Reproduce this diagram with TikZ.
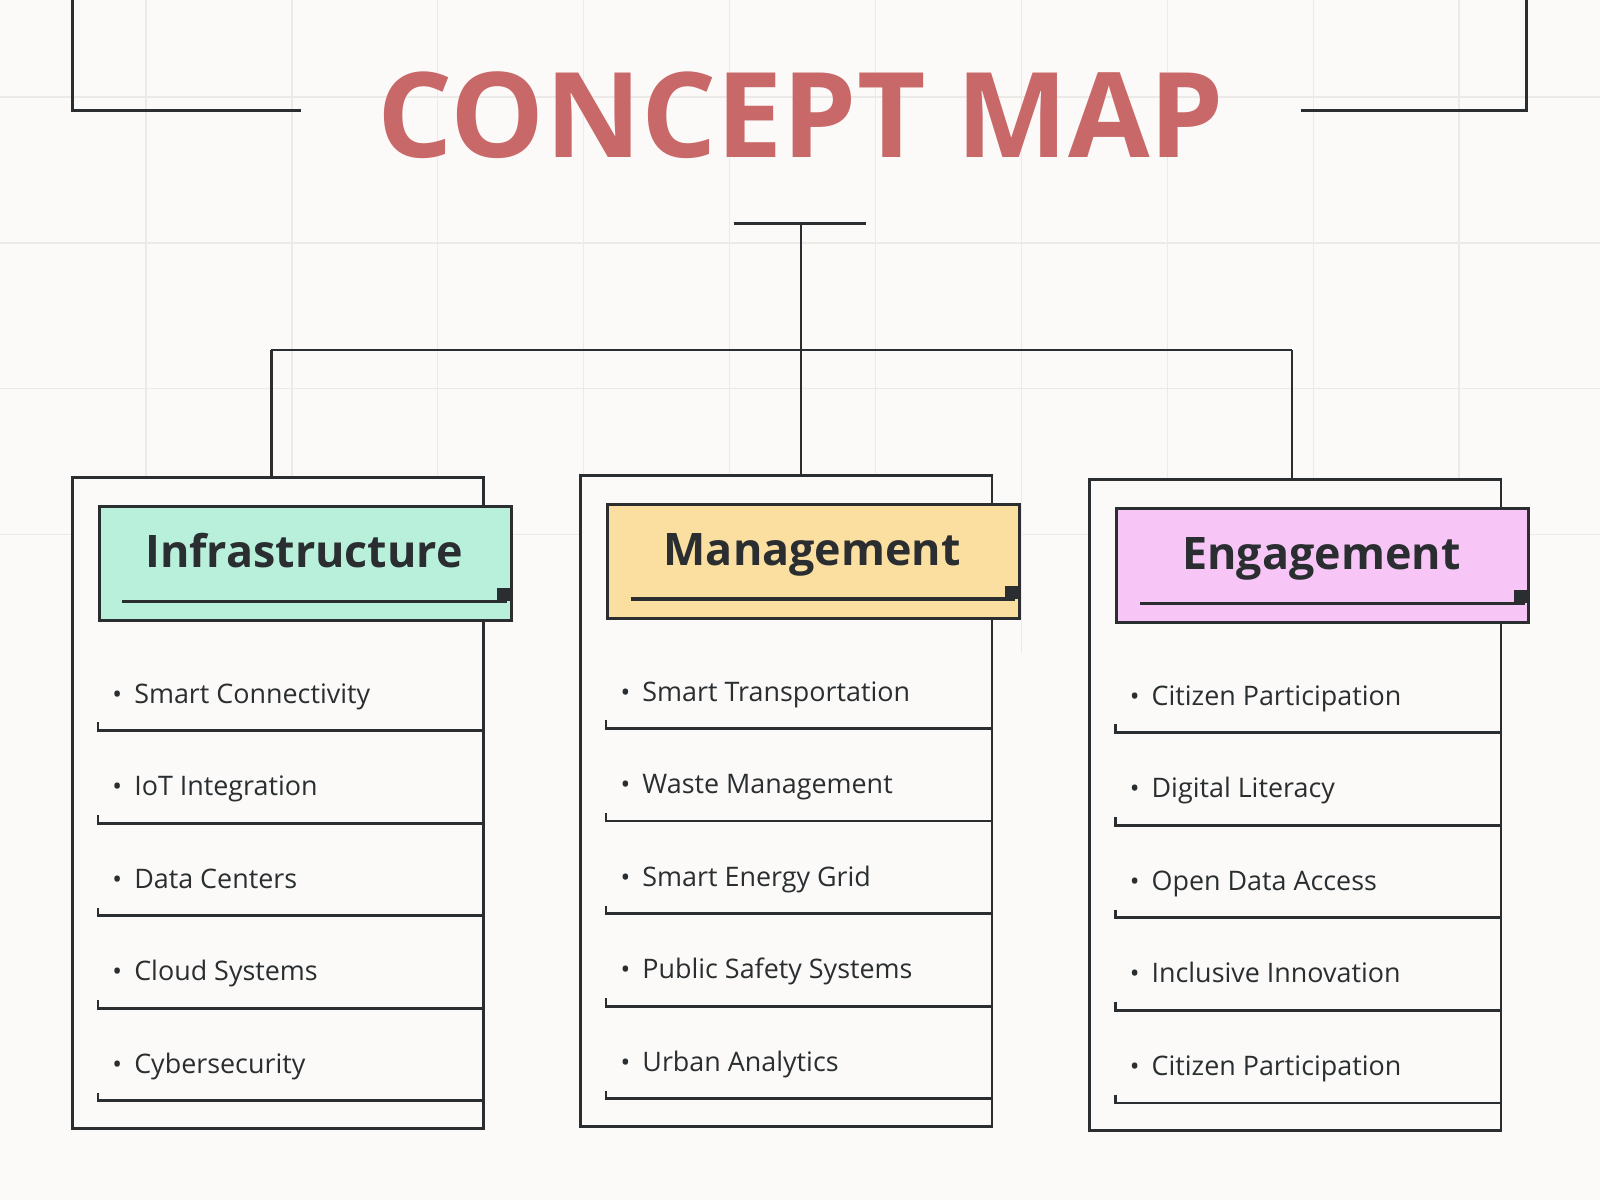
\documentclass[tikz,border=0pt]{standalone}
\usepackage{fontspec}
\setmainfont{Open Sans}
\usetikzlibrary{positioning}
\definecolor{titlered}{HTML}{C96868}
\definecolor{mint}{HTML}{B8F0DC}
\definecolor{sand}{HTML}{FADFA0}
\definecolor{pinkish}{HTML}{F8C6F6}
\definecolor{ink}{HTML}{2A2E30}
\definecolor{paper}{HTML}{FBFAF8}
\definecolor{gridc}{HTML}{ECEAE7}
\tikzset{
  frame/.style={draw=ink, line width=1.5pt},
  head/.style={draw=ink, line width=1.5pt, minimum width=8.08cm, minimum height=2.24cm, anchor=north west},
  headtext/.style={font=\fontsize{25}{28}\selectfont\bfseries, text=ink, anchor=base},
  item/.style={font=\fontsize{15}{17}\selectfont, text=ink, anchor=base west},
}
\begin{document}
\begin{tikzpicture}[x=0.02cm, y=-0.02cm]
    % background and faint grid
    \fill[paper] (0,0) rectangle (1568,1176);
    \useasboundingbox (0,0) rectangle (1568,1176);
    \foreach \g in {143,286,...,1500} \draw[gridc, line width=0.8pt] (\g,0) -- (\g,640);
    \foreach \g in {95,238,381,524} \draw[gridc, line width=0.8pt] (0,\g) -- (1568,\g);

    % title with side brackets
    \node[font=\fontsize{66}{66}\selectfont\bfseries, text=titlered] (title) at (785,113) {CONCEPT MAP};
    \draw[frame] (71,0) -- (71,108) -- (295,108);
    \draw[frame] (1496,0) -- (1496,108) -- (1275,108);

    % tree connectors
    \coordinate (tl) at (719,219); \coordinate (tr) at (849,219);
    \coordinate (top) at (785,219); \coordinate (mid) at (785,343);
    \coordinate (hl) at (266,343); \coordinate (hr) at (1266,343);
    \draw[frame] (tl) -- (tr);
    \draw[frame] (top) -- (785,466);
    \draw[frame] (hl) -- (hr);
    \draw[frame] (hl) -- (266,468);
    \draw[frame] (hr) -- (1266,470);

    % columns
    \foreach \dx/\dy/\name/\col/\lbl/\a/\b/\c/\d/\e in {
      0/0/infra/mint/Infrastructure/Smart Connectivity/IoT Integration/Data Centers/Cloud Systems/Cybersecurity,
      498/-2/mgmt/sand/Management/Smart Transportation/Waste Management/Smart Energy Grid/Public Safety Systems/Urban Analytics,
      997/2/engage/pinkish/Engagement/Citizen Participation/Digital Literacy/Open Data Access/Inclusive Innovation/Citizen Participation} {
      \begin{scope}[shift={(\dx,\dy)}]
        \draw[frame, fill=paper] (71,468) rectangle (474,1106);
        \node[head, fill=\col] (\name) at (96,495) {};
        \node[headtext] at (298,556) {\lbl};
        \draw[ink, line width=1.7pt] (120,589) -- (497,589);
        \fill[ink] (487,576) rectangle (500,589);
        \foreach \t [count=\i from 0] in {\a,\b,\c,\d,\e} {
          \node[item] (\name-\i) at (104,689+90.7*\i) {{\Large\textbullet}\hspace{0.45em}\t};
          \draw[frame] (96,708+90.7*\i) -- (96,716+90.7*\i) -- (474,716+90.7*\i);
        }
        \draw[frame] (474,652) -- (474,1080);
      \end{scope}
    }
\end{tikzpicture}
\end{document}
